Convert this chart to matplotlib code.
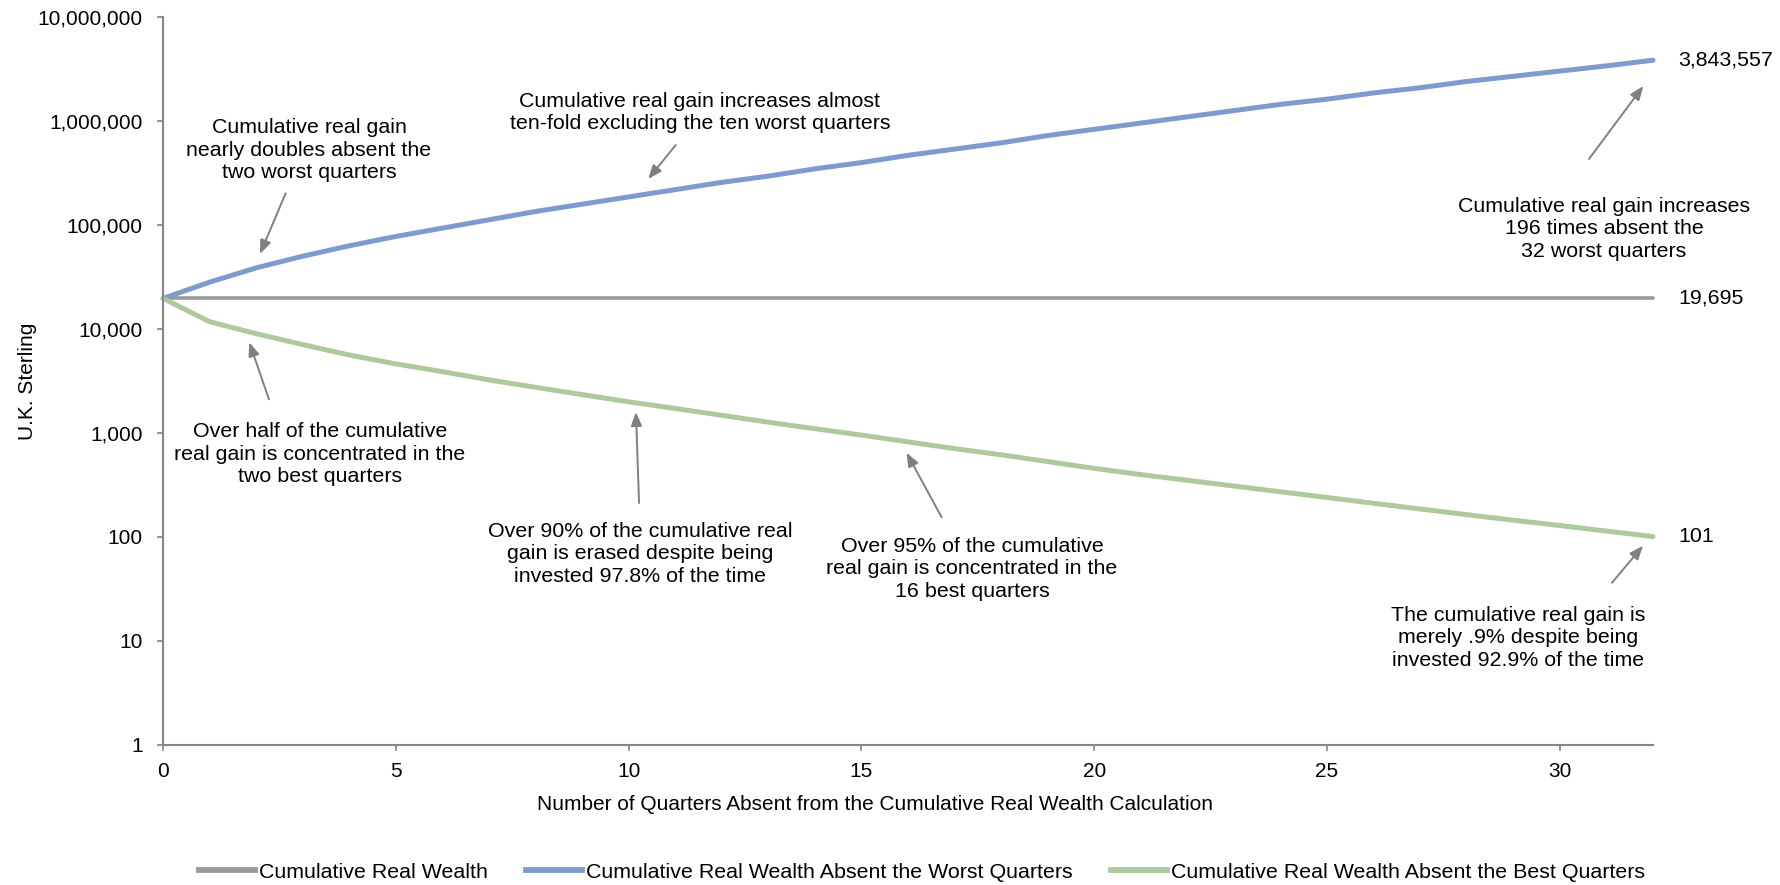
import matplotlib
matplotlib.use('Agg')
import matplotlib.pyplot as plt
from matplotlib.lines import Line2D
from matplotlib.ticker import FixedLocator, FuncFormatter, NullLocator

plt.rcParams['font.family'] = ['Liberation Sans', 'DejaVu Sans']

# quarters left out of the calculation
quarters = list(range(33))

# cumulative real wealth, UK sterling
base_wealth = 19695
absent_worst = [19695, 28200, 38700, 50100, 63100, 77600, 93300, 112200, 134900,
                158500, 186200, 218800, 257000, 295100, 346700, 398100, 467700,
                537000, 616600, 724400, 831800, 955000, 1096500, 1258900, 1445400,
                1621800, 1862100, 2089300, 2398800, 2691500, 3020000, 3388400, 3843557]
absent_best = [19695, 11750, 9020, 7080, 5620, 4620, 3890, 3240, 2750, 2340, 1995,
               1720, 1480, 1270, 1100, 955, 822, 708, 617, 531, 457, 398, 351, 309,
               272, 240, 211, 186, 164, 145, 129, 114, 101]

series_names = ['Cumulative Real Wealth',
                'Cumulative Real Wealth Absent the Worst Quarters',
                'Cumulative Real Wealth Absent the Best Quarters']

y_ticks = [1, 10, 100, 1000, 10000, 100000, 1000000, 10000000]
x_ticks = [0, 5, 10, 15, 20, 25, 30]

GRAY = '#9a9a9a'
BLUE = '#7e9bcd'
GREEN = '#adca9c'
ARROW = '#808080'
AXIS = '#868686'
FS = 15.4

W, H = 1781, 885
fig = plt.figure(figsize=(W / 100, H / 100), dpi=100)
ax = fig.add_axes([163 / W, 1 - 745 / H, 1490 / W, 728 / H])

flat = [base_wealth] * len(quarters)
ax.plot(quarters, flat, color=GRAY, lw=2.6, clip_on=False, solid_capstyle='round')
ax.plot(quarters, absent_worst, color=BLUE, lw=3.6, clip_on=False, solid_capstyle='round')
ax.plot(quarters, absent_best, color=GREEN, lw=3.6, clip_on=False, solid_capstyle='round')

ax.set_yscale('log')
ax.set_ylim(1, 10000000)
ax.set_xlim(0, 32)
ax.yaxis.set_major_locator(FixedLocator(y_ticks))
ax.yaxis.set_minor_locator(NullLocator())
ax.yaxis.set_major_formatter(FuncFormatter(lambda v, p: f'{int(v):,}'))
ax.xaxis.set_major_locator(FixedLocator(x_ticks))

for s in ['top', 'right']:
    ax.spines[s].set_visible(False)
for s in ['left', 'bottom']:
    ax.spines[s].set_color(AXIS)
    ax.spines[s].set_linewidth(1.5)
ax.tick_params(axis='both', colors=AXIS, labelcolor='black', labelsize=15,
               length=4.5, width=1.2)
ax.tick_params(axis='y', pad=10)
ax.tick_params(axis='x', pad=8)

ax.set_ylabel('U.K. Sterling', fontsize=15)
ax.yaxis.set_label_coords(-0.0846, 0.5)
fig.text(875 / W, 1 - 805 / H,
         'Number of Quarters Absent from the Cumulative Real Wealth Calculation',
         ha='center', va='center', fontsize=15)

# end-of-line value labels
for vals in [absent_worst, flat, absent_best]:
    ax.annotate(f'{vals[-1]:,}', xy=(quarters[-1], vals[-1]), xytext=(18, 0),
                textcoords='offset points', va='center', ha='left', fontsize=FS)

# callouts: text centre, arrow tail, arrow tip (axes fraction)
notes = [
    ('Cumulative real gain\nnearly doubles absent the\ntwo worst quarters',
     (0.098, 0.817), (0.0823, 0.7578), (0.0651, 0.6745)),
    ('Cumulative real gain increases almost\nten-fold excluding the ten worst quarters',
     (0.3604, 0.8688), (0.3441, 0.8242), (0.3257, 0.7775)),
    ('Cumulative real gain increases\n196 times absent the\n32 worst quarters',
     (0.9671, 0.7088), (0.957, 0.8049), (0.9935, 0.9052)),
    ('Over half of the cumulative\nreal gain is concentrated in the\ntwo best quarters',
     (0.1054, 0.3997), (0.0711, 0.4749), (0.0579, 0.5532)),
    ('Over 90% of the cumulative real\ngain is erased despite being\ninvested 97.8% of the time',
     (0.3201, 0.2624), (0.3195, 0.3324), (0.3174, 0.4574)),
    ('Over 95% of the cumulative\nreal gain is concentrated in the\n16 best quarters',
     (0.5430, 0.2418), (0.5226, 0.3128), (0.499, 0.4015)),
    ('The cumulative real gain is\nmerely .9% despite being\ninvested 92.9% of the time',
     (0.9094, 0.147), (0.9725, 0.2229), (0.9933, 0.2738)),
]
for txt, pos, tail, tip in notes:
    ax.text(pos[0], pos[1], txt, transform=ax.transAxes, ha='center', va='center',
            fontsize=FS, linespacing=1.22, clip_on=False)
    ax.annotate('', xy=tip, xytext=tail, xycoords='axes fraction',
                textcoords='axes fraction', annotation_clip=False,
                arrowprops=dict(arrowstyle='-|>,head_length=0.55,head_width=0.22',
                                mutation_scale=15, color=ARROW, lw=1.4,
                                shrinkA=0, shrinkB=0))

handles = [Line2D([], [], color=c, lw=4.2) for c in [GRAY, BLUE, GREEN]]
fig.legend(handles, series_names, loc='center', bbox_to_anchor=(922 / W, 1 - 872 / H),
           ncol=3, frameon=False, fontsize=FS, handlelength=2.6, handletextpad=0.2,
           columnspacing=1.8, borderpad=0, borderaxespad=0)

fig.savefig('out.png', dpi=100)
